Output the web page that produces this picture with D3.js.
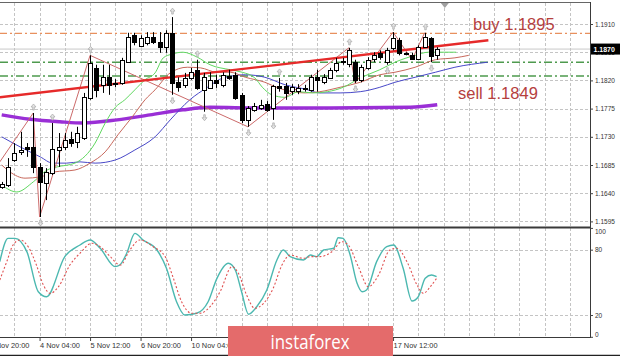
<!DOCTYPE html>
<html><head><meta charset="utf-8">
<script src="https://cdn.jsdelivr.net/npm/d3@7"></script>
<style>html,body{margin:0;padding:0;background:#fff;overflow:hidden}</style>
</head><body>
<svg id="c" width="620" height="356" xmlns="http://www.w3.org/2000/svg"></svg>
<script>
// ---------- DATA (EURUSD H4) ----------
const opens = [1.1651,1.1653,1.1693,1.1706,1.1714,1.1714,1.1682,1.1656,1.1672,1.1709,
1.1714,1.1727,1.1722,1.1728,1.1792,1.1840,1.1813,1.1825,1.1814,1.1816,
1.1849,1.1892,1.1876,1.1880,1.1889,1.1881,1.1873,1.1896,1.1817,1.1813,
1.1824,1.1837,1.1805,1.1809,1.1821,1.1813,1.1827,1.1829,1.1797,1.1757,
1.1773,1.1776,1.1782,1.1776,1.1811,1.1811,1.1802,1.1803,1.1808,1.1805,
1.1825,1.1817,1.1825,1.1837,1.1849,1.1845,1.1849,1.1821,1.1840,1.1853,
1.1864,1.1849,1.1872,1.1884,1.1864,1.1860,1.1854,1.1873,1.1888,1.1860];
const highs = [1.1658,1.1696,1.1720,1.1738,1.1720,1.1768,1.1688,1.1680,1.1752,1.1736,
1.1736,1.1738,1.1746,1.1800,1.1860,1.1845,1.1845,1.1845,1.1822,1.1856,
1.1896,1.1896,1.1892,1.1897,1.1897,1.1897,1.1900,1.1921,1.1825,1.1832,
1.1840,1.1853,1.1832,1.1833,1.1829,1.1833,1.1837,1.1833,1.1800,1.1779,
1.1784,1.1789,1.1787,1.1813,1.1824,1.1816,1.1814,1.1814,1.1813,1.1829,
1.1837,1.1830,1.1840,1.1856,1.1856,1.1872,1.1853,1.1845,1.1857,1.1865,
1.1868,1.1872,1.1897,1.1888,1.1865,1.1864,1.1876,1.1896,1.1889,1.1873];
const lows = [1.1647,1.1650,1.1690,1.1701,1.1698,1.1672,1.1602,1.1629,1.1669,1.1682,
1.1709,1.1714,1.1712,1.1725,1.1789,1.1793,1.1800,1.1797,1.1809,1.1813,
1.1848,1.1876,1.1873,1.1876,1.1878,1.1864,1.1864,1.1797,1.1802,1.1808,
1.1821,1.1805,1.1770,1.1808,1.1808,1.1809,1.1821,1.1789,1.1752,1.1746,
1.1770,1.1773,1.1770,1.1757,1.1802,1.1789,1.1797,1.1798,1.1802,1.1802,
1.1802,1.1814,1.1824,1.1833,1.1845,1.1841,1.1816,1.1817,1.1837,1.1849,
1.1853,1.1845,1.1868,1.1860,1.1860,1.1853,1.1853,1.1872,1.1849,1.1853];
const closes = [1.1655,1.1682,1.1704,1.1709,1.1711,1.1682,1.1658,1.1674,1.1711,1.1714,
1.1725,1.1720,1.1736,1.1793,1.1848,1.1805,1.1825,1.1813,1.1816,1.1853,
1.1889,1.1881,1.1888,1.1889,1.1881,1.1873,1.1896,1.1817,1.1809,1.1824,
1.1833,1.1808,1.1825,1.1821,1.1816,1.1829,1.1824,1.1793,1.1757,1.1776,
1.1779,1.1781,1.1773,1.1811,1.1808,1.1800,1.1809,1.1808,1.1806,1.1825,
1.1821,1.1825,1.1837,1.1848,1.1851,1.1868,1.1821,1.1841,1.1853,1.1860,
1.1857,1.1868,1.1888,1.1864,1.1862,1.1854,1.1873,1.1889,1.1860,1.1870];

// Alligator lines [bar, price]
const lipsLine = [[0,1.1653],[2.4,1.1642],[5,1.1658],[7.2,1.1677],[8.8,1.1682],[11.6,1.1688],[14.8,1.1720],[16.4,1.1752],[18,1.1777],[19.5,1.1789],[21.1,1.1805],[22.7,1.1821],[24.3,1.1832],[25.6,1.1856],[27,1.1862],[28.7,1.1865],[31,1.1857],[33,1.1845],[36.2,1.1837],[38.1,1.1833],[40.1,1.1824],[41.3,1.1809],[42.8,1.1797],[44.9,1.1793],[47,1.1802],[49.3,1.1800],[51.6,1.1802],[54.1,1.1809],[56.8,1.1824],[59.9,1.1837],[62.3,1.1849],[65.5,1.1860],[67.6,1.1865],[72,1.1865]];
const teethLine = [[0,1.1685],[1.3,1.1674],[3.7,1.1664],[6.1,1.1666],[8.4,1.1674],[11.6,1.1677],[14,1.1688],[16.4,1.1706],[18.4,1.1733],[20.7,1.1762],[22.7,1.1789],[24.3,1.1805],[26.7,1.1832],[29.4,1.1841],[31.5,1.1840],[34.1,1.1833],[36.2,1.1833],[38.6,1.1825],[41.7,1.1817],[43.8,1.1808],[46,1.1802],[48.1,1.1800],[50.4,1.1802],[53.6,1.1809],[56.8,1.1817],[59.9,1.1829],[62.3,1.1833],[65.5,1.1841],[68.7,1.1853],[71.8,1.1856],[74,1.1860]];
const jawLine = [[0,1.1730],[2.9,1.1714],[6.1,1.1698],[8.1,1.1688],[10.3,1.1688],[12.4,1.1690],[14.8,1.1688],[18,1.1693],[21.1,1.1709],[24.3,1.1730],[26.7,1.1757],[29.8,1.1789],[32.6,1.1809],[35.1,1.1824],[38.6,1.1829],[41.7,1.1825],[44.9,1.1813],[48.1,1.1806],[50.4,1.1800],[53.6,1.1800],[56.8,1.1802],[59.9,1.1809],[62.3,1.1817],[65.5,1.1825],[68.7,1.1833],[71.8,1.1841],[77,1.1849]];
const slowMaLine = [[0,1.1765],[4.5,1.1758],[9.2,1.1754],[12.9,1.1752],[18.3,1.1757],[23.5,1.1765],[28.7,1.1773],[33,1.1777],[41,1.1776],[52,1.1776],[64.7,1.1777],[69,1.1781]];
const zigzagLine = [[-0.3,1.1690],[5,1.1768],[6,1.1602],[14,1.1860],[39,1.1746],[55,1.1872],[56,1.1816],[62,1.1897],[65,1.1853],[67,1.1896]];
const fractalUpBars = [5,8,14,27,31,44,55,62,67];
const fractalDownBars = [6,27,32,39,43,56,61,68];

const trendLine = [[-0.3,1.1793],[77.1,1.1884]];
const buyLevel = 1.1895, sellLevel = 1.1849, lowerLevel = 1.1827, lastPrice = 1.1870;
const buyText = "buy 1.1895", sellText = "sell 1.1849";

// Stochastic [bar, value]
const stochMain = [[-0.3,69],[1,90.4],[2.1,90.4],[4,78],[5.8,41.4],[7.1,36.8],[10,73.6],[12.4,84.3],[14,88.9],[15.6,81.3],[18,64.4],[18.7,65.9],[19.8,76.7],[21.1,95],[22.4,88.9],[24.6,79.7],[26.1,62.9],[27.7,32.2],[29,20],[30.9,21.6],[32.7,32.2],[34.1,53.7],[35.9,67.5],[37,61.3],[38,41.4],[39.1,20.7],[40.4,27.6],[42,43],[43.6,70.5],[44.6,79.7],[45.7,73.6],[47.8,70.5],[48.9,75.1],[49.9,73.6],[51,79.7],[52.6,81.3],[53.3,91],[54.1,90.4],[55.2,75.1],[56.3,49.1],[57.1,41.4],[57.8,43],[59.4,69],[61,82.7],[62.1,84.3],[63.6,62.9],[65,32.9],[66,36.8],[67.1,53.7],[68.1,56.7],[68.9,55.2]];
const stochSignal = [[-0.3,52.2],[0.8,69],[1.8,84.3],[2.9,88.9],[4.2,82.7],[5.5,65.9],[6.6,47.6],[7.7,39.9],[9,46],[10.8,65.9],[12.4,76.7],[14.3,85.9],[15.6,82.7],[17.2,73.6],[18.8,65.9],[20.3,79.7],[21.9,88.9],[24,82.7],[25.9,73.6],[27.2,53.7],[28.5,32.2],[30.1,21.6],[31.4,21.6],[33,27.6],[34.6,41.4],[36.5,64.4],[37.5,58.3],[38.8,38.4],[40.1,26.2],[41.5,30.8],[43,44.5],[44.4,65.9],[45.7,75.1],[47.8,72.1],[48.9,73.6],[50.4,73.6],[52.3,78.1],[53.9,87.3],[54.9,84.3],[56.5,64.4],[58.1,46],[59.7,56.7],[61.5,79.7],[62.6,81.3],[64.2,69],[65.8,47.6],[66.8,39.9],[67.9,46],[68.9,53.7]];

const priceTicks = [1.1910,1.1865,1.1820,1.1775,1.1730,1.1685,1.1640,1.1595];
const stochTicks = [100,80,20,0];
const timeBars = [-2,6,14,22,30,38,46,54,62];
// labels at bars 38/46/54 sit fully under the watermark in the reference
const timeLabels = ["3 Nov 20:00","4 Nov 04:00","5 Nov 12:00","6 Nov 20:00","10 Nov 04:00","","","","17 Nov 12:00"];
const watermark = "instaforex";

// ---------- LAYOUT ----------
const plotR = 590, mainT = 3, mainB = 227, stT = 228, stB = 337;
const svg = d3.select('#c');
const x = d3.scaleLinear().domain([0, 93.2]).range([1.7, 590]);
const y = d3.scaleLinear().domain([1.1595, 1.1910]).range([221.4, 24]);
const ys = d3.scaleLinear().domain([0, 100]).range([336.8, 227.9]);
const FONT = "'Liberation Sans', Arial, sans-serif";

const defs = svg.append('defs');
defs.append('clipPath').attr('id','mclip').append('rect').attr('x',0).attr('y',mainT).attr('width',plotR).attr('height',mainB-mainT);
defs.append('clipPath').attr('id','sclip').append('rect').attr('x',0).attr('y',stT).attr('width',plotR).attr('height',stB-stT);

svg.append('rect').attr('width',620).attr('height',356).attr('fill','#fff');

// grids
const gridBars = d3.range(-2, 94, 4);
const grid = svg.append('g').attr('stroke','#c4c4c4').attr('stroke-width',1).attr('stroke-dasharray','3,2');
grid.selectAll('line.v1').data(gridBars).join('line')
  .attr('x1',d=>Math.round(x(d))+0.5).attr('x2',d=>Math.round(x(d))+0.5).attr('y1',mainT).attr('y2',mainB);
grid.selectAll('line.v2').data(gridBars).join('line')
  .attr('x1',d=>Math.round(x(d))+0.5).attr('x2',d=>Math.round(x(d))+0.5).attr('y1',stT).attr('y2',stB);
grid.selectAll('line.h').data(priceTicks).join('line')
  .attr('x1',0).attr('x2',plotR).attr('y1',d=>Math.round(y(d))+0.5).attr('y2',d=>Math.round(y(d))+0.5);
grid.selectAll('line.hs').data([80,20]).join('line')
  .attr('x1',0).attr('x2',plotR).attr('y1',d=>Math.round(ys(d))+0.5).attr('y2',d=>Math.round(ys(d))+0.5);

const main = svg.append('g').attr('clip-path','url(#mclip)');

// level lines
main.append('line').attr('x1',0).attr('x2',plotR).attr('y1',y(lastPrice)).attr('y2',y(lastPrice))
  .attr('stroke','#c8c8c8').attr('stroke-width',1);
main.append('line').attr('x1',0).attr('x2',plotR).attr('y1',y(buyLevel)).attr('y2',y(buyLevel))
  .attr('stroke','#e8905e').attr('stroke-width',1.2).attr('stroke-dasharray','7,3,2,3');
[sellLevel, lowerLevel].forEach(v=>{
  main.append('line').attr('x1',0).attr('x2',plotR).attr('y1',y(v)).attr('y2',y(v))
    .attr('stroke','#4e9a4e').attr('stroke-width',1.4).attr('stroke-dasharray','8,3,2,3');
});

const line = d3.line().x(d=>x(d[0])).y(d=>y(d[1])).curve(d3.curveMonotoneX);
const lineStraight = d3.line().x(d=>x(d[0])).y(d=>y(d[1]));

// slow MA (purple)
main.append('path').attr('d',line(slowMaLine)).attr('fill','none').attr('stroke','#9a2fd6').attr('stroke-width',3.5);
// alligator
main.append('path').attr('d',line(jawLine)).attr('fill','none').attr('stroke','#4848c8').attr('stroke-width',1);
main.append('path').attr('d',line(teethLine)).attr('fill','none').attr('stroke','#c8685c').attr('stroke-width',1);
main.append('path').attr('d',line(lipsLine)).attr('fill','none').attr('stroke','#60d860').attr('stroke-width',1);
// zigzag
main.append('path').attr('d',lineStraight(zigzagLine)).attr('fill','none').attr('stroke','#cc6a6a').attr('stroke-width',1);
// trend line
main.append('path').attr('d',lineStraight(trendLine)).attr('fill','none').attr('stroke','#e62a2a').attr('stroke-width',2.4);

// candles
const idx = d3.range(opens.length);
const cx = i => Math.round(x(i)) + 0.5;
main.selectAll('line.wick').data(idx).join('line')
  .attr('x1',cx).attr('x2',cx).attr('y1',i=>y(highs[i])).attr('y2',i=>y(lows[i]))
  .attr('stroke','#000').attr('stroke-width',1);
main.selectAll('rect.body').data(idx).join('rect')
  .attr('x',i=>cx(i)-2).attr('width',4)
  .attr('y',i=>Math.round(y(Math.max(opens[i],closes[i])))+0.5)
  .attr('height',i=>Math.max(1,Math.round(Math.abs(y(opens[i])-y(closes[i])))))
  .attr('fill',i=>closes[i]>=opens[i]?'#fff':'#000').attr('stroke','#000').attr('stroke-width',1);

// fractals (small light arrows)
const arrowUp = (px,py)=>`M${px},${py-3}L${px+2.5},${py}L${px+0.8},${py}L${px+0.8},${py+3}L${px-0.8},${py+3}L${px-0.8},${py}L${px-2.5},${py}Z`;
const arrowDn = (px,py)=>`M${px},${py+3}L${px+2.5},${py}L${px+0.8},${py}L${px+0.8},${py-3}L${px-0.8},${py-3}L${px-0.8},${py}L${px-2.5},${py}Z`;
main.selectAll('path.fu').data(fractalUpBars).join('path')
  .attr('d',i=>arrowUp(cx(i), y(highs[i])-6)).attr('fill','#e4e4e4').attr('stroke','#a8a8a8').attr('stroke-width',0.7);
main.selectAll('path.fd').data(fractalDownBars).join('path')
  .attr('d',i=>arrowDn(cx(i), y(lows[i])+6)).attr('fill','#e4e4e4').attr('stroke','#a8a8a8').attr('stroke-width',0.7);

// annotations
svg.append('text').attr('x',473).attr('y',y(buyLevel)-3).text(buyText)
  .attr('font-family',FONT).attr('font-size',16.5).attr('fill','#b5403e');
svg.append('text').attr('x',458).attr('y',99).text(sellText)
  .attr('font-family',FONT).attr('font-size',16.5).attr('fill','#b5403e');

// shift marker
svg.append('path').attr('d',`M${x(70.2)-4},3L${x(70.2)+4},3L${x(70.2)},8Z`).attr('fill','#a0a0a0');

// stochastic
const st = svg.append('g').attr('clip-path','url(#sclip)');
const sline = d3.line().x(d=>x(d[0])).y(d=>ys(d[1])).curve(d3.curveMonotoneX);
st.append('path').attr('d',sline(stochMain)).attr('fill','none').attr('stroke','#4cb8b0').attr('stroke-width',1.4);
st.append('path').attr('d',sline(stochSignal)).attr('fill','none').attr('stroke','#e05252').attr('stroke-width',1.1).attr('stroke-dasharray','2,2');

// frames
const fr = svg.append('g').attr('stroke','#3a3a3a').attr('fill','none');
fr.append('line').attr('x1',0).attr('x2',plotR).attr('y1',2.5).attr('y2',2.5).attr('stroke','#666');
fr.append('line').attr('x1',0).attr('x2',plotR).attr('y1',mainB+0.5).attr('y2',mainB+0.5).attr('stroke-width',2);
fr.append('line').attr('x1',0).attr('x2',plotR).attr('y1',stB+0.5).attr('y2',stB+0.5);
fr.append('line').attr('x1',plotR+0.5).attr('x2',plotR+0.5).attr('y1',2).attr('y2',stB+1);
fr.append('line').attr('x1',0).attr('x2',620).attr('y1',355.5).attr('y2',355.5).attr('stroke','#222').attr('stroke-width',1.5);

// price axis
const pAxis = svg.append('g').attr('transform',`translate(${plotR},0)`)
  .call(d3.axisRight(y).tickValues(priceTicks).tickFormat(d3.format('.4f')).tickSize(3).tickPadding(2));
pAxis.select('.domain').remove();
pAxis.selectAll('line').attr('stroke','#444');
pAxis.selectAll('text').attr('font-family',FONT).attr('font-size',6.5).attr('fill','#333');

// current price box
svg.append('rect').attr('x',plotR+1).attr('y',y(lastPrice)-5.5).attr('width',29).attr('height',11).attr('fill','#000');
svg.append('text').attr('x',plotR+3.5).attr('y',y(lastPrice)+2.5).text(d3.format('.4f')(lastPrice))
  .attr('font-family',FONT).attr('font-size',7).attr('font-weight','bold').attr('fill','#fff');

// stochastic axis
const sAxis = svg.append('g').attr('transform',`translate(${plotR},0)`)
  .call(d3.axisRight(ys).tickValues(stochTicks).tickSize(3).tickPadding(2));
sAxis.select('.domain').remove();
sAxis.selectAll('line').attr('stroke','#444');
sAxis.selectAll('text').attr('font-family',FONT).attr('font-size',6.5).attr('fill','#333')
  .attr('dy',d=>d===100?'0.9em':(d===0?'-0.1em':'0.32em'));

// time axis
const tAxis = svg.append('g').attr('transform',`translate(0,${stB+1})`)
  .call(d3.axisBottom(x).tickValues(timeBars).tickFormat((d,i)=>timeLabels[i]).tickSize(3).tickPadding(2));
tAxis.select('.domain').remove();
tAxis.selectAll('line').attr('stroke','#444');
tAxis.selectAll('text').attr('font-family',FONT).attr('font-size',7.4).attr('fill','#333').attr('text-anchor','start');

// watermark
svg.append('rect').attr('x',228).attr('y',326).attr('width',165).attr('height',30).attr('fill','#e46b6b');
svg.append('text').attr('x',310).attr('y',348.5).attr('text-anchor','middle').text(watermark)
  .attr('font-family',"'Open Sans', sans-serif").attr('font-size',20).attr('fill','#fff')
  .attr('textLength',79).attr('lengthAdjust','spacingAndGlyphs');
</script>
</body></html>
